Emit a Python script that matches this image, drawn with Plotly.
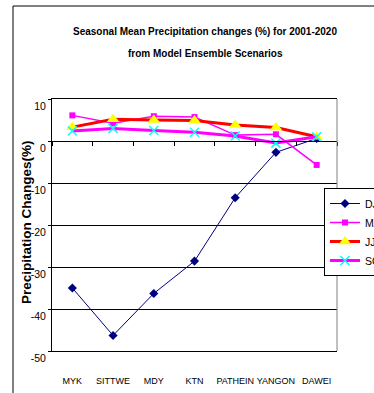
import plotly.graph_objects as go

categories = ["MYK", "SITTWE", "MDY", "KTN", "PATHEIN", "YANGON", "DAWEI"]
djf = [-35.0, -46.3, -36.3, -28.6, -13.5, -2.7, 0.6]
mam = [6.1, 4.2, 5.9, 5.7, 1.4, 1.6, -5.7]
jja = [3.3, 5.2, 5.0, 4.9, 3.8, 3.2, 1.0]
son = [2.4, 3.0, 2.5, 2.1, 1.2, -0.5, 1.0]
y_ticks = [10, 0, -10, -20, -30, -40, -50]
title_lines = ["Seasonal Mean Precipitation changes (%) for 2001-2020",
               "from Model Ensemble Scenarios"]
y_title = "Precipitation Changes(%)"

FONT = "Liberation Sans, Arial, sans-serif"

fig = go.Figure()
fig.add_trace(go.Scatter(x=categories, y=djf, name="DJF", mode="lines+markers",
                         line=dict(color="#000080", width=1),
                         marker=dict(symbol="diamond", size=7, color="#000080")))
fig.add_trace(go.Scatter(x=categories, y=mam, name="MAM", mode="lines+markers",
                         line=dict(color="#FF00FF", width=1.5),
                         marker=dict(symbol="square", size=6, color="#FF00FF")))
fig.add_trace(go.Scatter(x=categories, y=jja, name="JJA", mode="lines+markers",
                         line=dict(color="#FF0000", width=3),
                         marker=dict(symbol="triangle-up", size=11, color="#FFFF00")))
fig.add_trace(go.Scatter(x=categories, y=son, name="SON", mode="lines+markers",
                         line=dict(color="#FF00FF", width=3),
                         marker=dict(symbol="x-thin-open", size=9,
                                     line=dict(color="#00FFFF", width=1.5),
                                     color="#00FFFF")))

# empty trace on the zero-line axis
fig.add_trace(go.Scatter(x=[None], y=[None], xaxis="x2", showlegend=False, hoverinfo="skip"))

W, H = 374, 393
L, R, T, B = 52, 37, 99, 42
pw, ph = W - L - R, H - T - B

def px_x(p):
    return (p - L) / pw

def px_y(p):
    return (H - B - p) / ph

zero_pos = (0 - (-50)) / (10 - (-50))

fig.update_layout(
    width=W, height=H,
    margin=dict(l=L, r=R, t=T, b=B, pad=0, autoexpand=False),
    paper_bgcolor="white", plot_bgcolor="white",
    showlegend=True,
    legend=dict(x=px_x(324), y=px_y(188), xanchor="left", yanchor="top",
                bgcolor="white", bordercolor="black", borderwidth=1,
                font=dict(family=FONT, size=10.5, color="black"),
                tracegroupgap=0, itemwidth=30),
    xaxis=dict(type="category", range=[-0.5, 6.5], showline=True, linecolor="black",
               linewidth=1, mirror=True, showgrid=False, ticks="outside", ticklen=21,
               tickcolor="rgba(0,0,0,0)", tickangle=0,
               tickfont=dict(family=FONT, size=9, color="black")),
    xaxis2=dict(overlaying="x", anchor="free", position=zero_pos, range=[-0.5, 6.5],
                tickmode="array", tickvals=[i - 0.5 for i in range(len(categories) + 1)],
                showticklabels=False, ticks="outside", ticklen=4, tickcolor="black",
                showline=True, linecolor="black", linewidth=1, showgrid=False,
                zeroline=False),
    yaxis=dict(range=[-50, 10], tickmode="array", tickvals=y_ticks,
               ticktext=[str(v) for v in y_ticks],
               showgrid=True, gridcolor="black", gridwidth=1, zeroline=False,
               showline=True, linecolor="black", linewidth=1,
               ticks="outside", ticklen=3, tickcolor="black",
               ticklabelshift=7,
               tickfont=dict(family=FONT, size=10.5, color="black")),
    annotations=[
        dict(text="<b>" + title_lines[0] + "</b>",
             x=px_x(205), y=px_y(31), xref="paper", yref="paper",
             xanchor="center", yanchor="middle", showarrow=False,
             font=dict(family=FONT, size=10, color="black")),
        dict(text="<b>" + title_lines[1] + "</b>",
             x=px_x(205), y=px_y(54), xref="paper", yref="paper",
             xanchor="center", yanchor="middle", showarrow=False,
             font=dict(family=FONT, size=10, color="black")),
        dict(text="<b>" + y_title + "</b>", textangle=-90,
             x=px_x(26), y=px_y(222), xref="paper", yref="paper",
             xanchor="center", yanchor="middle", showarrow=False,
             font=dict(family=FONT, size=13.5, color="black")),
    ],
    shapes=[
        dict(type="line", xref="x domain", yref="y domain", x0=1, x1=1, y0=0, y1=1,
             line=dict(color="#808080", width=1)),
        dict(type="line", xref="paper", yref="paper", x0=px_x(13), x1=px_x(13),
             y0=px_y(6), y1=px_y(400), line=dict(color="black", width=1)),
        dict(type="line", xref="paper", yref="paper", x0=px_x(13), x1=px_x(380),
             y0=px_y(6), y1=px_y(6), line=dict(color="black", width=1)),
    ],
)

fig.write_html("out.html", config={"displayModeBar": False},
               post_script="document.body.style.margin='0px';document.body.style.overflow='hidden';")
